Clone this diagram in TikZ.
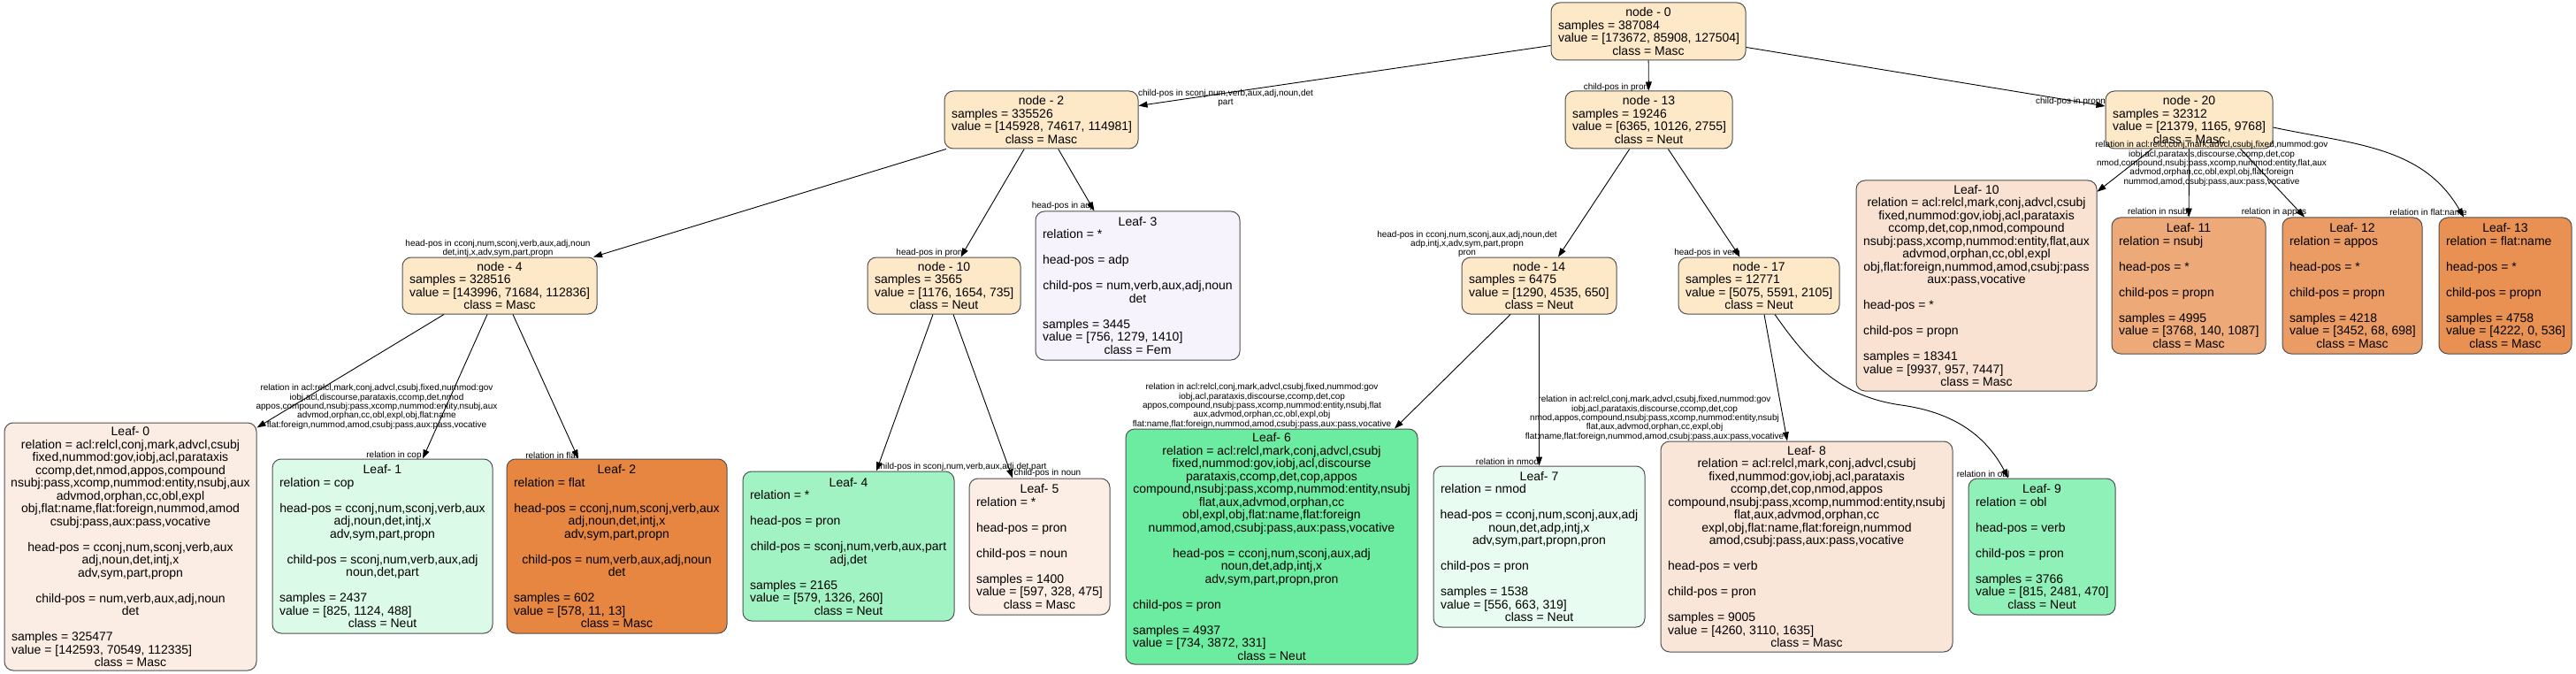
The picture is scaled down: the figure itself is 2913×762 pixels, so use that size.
\documentclass[tikz,border=0pt]{standalone}
\usepackage{fontspec}
\setmainfont{Liberation Sans}
\usetikzlibrary{arrows.meta}

\definecolor{inode}{HTML}{FDE8C8}
\definecolor{lfa}{HTML}{FBEDE3}
\definecolor{lfb}{HTML}{DBFAE8}
\definecolor{lfc}{HTML}{E68641}
\definecolor{lfd}{HTML}{F7F3FD}
\definecolor{lfe}{HTML}{A2F3C4}
\definecolor{lff}{HTML}{FCEEE5}
\definecolor{lfg}{HTML}{6BECA1}
\definecolor{lfh}{HTML}{E9FCF1}
\definecolor{lfi}{HTML}{FAE6D8}
\definecolor{lfj}{HTML}{8FF0B8}
\definecolor{lfk}{HTML}{F9E2D2}
\definecolor{lfl}{HTML}{EDA977}
\definecolor{lfm}{HTML}{EB9C64}
\definecolor{lfn}{HTML}{E89152}
\definecolor{bord}{HTML}{505050}

\newcommand\tcen[1]{\hbox to\hsize{\hss#1\hss}}
\newcommand\tlft[1]{\hbox to\hsize{#1\hss}}
\newcommand\tblank{\hbox{}}
\newcommand\tbox[2]{\vbox{\hsize=#1\relax\fontsize{14pt}{14.5pt}\selectfont\baselineskip=14.5pt\lineskiplimit=-40pt\lineskip=0pt #2}}

\tikzset{
  treebox/.style={draw=bord, line width=1pt, rounded corners=10pt, inner xsep=8pt, inner ysep=0pt},
  elab/.style={font=\fontsize{10pt}{10.3pt}\selectfont, align=center, inner sep=0pt},
  treeedge/.style={draw=black, line width=0.9pt, -{Triangle[length=10pt,width=7pt]}},
}

\newcommand\tnode[7]{\node[treebox, fill=#6, minimum width=#4pt, minimum height=#5pt] (#1) at (#2,#3) {\tbox{\dimexpr#4pt-16pt\relax}{#7}};}

\begin{document}
\begin{tikzpicture}[x=1pt,y=-1pt]
\useasboundingbox[fill=white] (0,0) rectangle (2913,762);

% ---- internal nodes
\tnode{n0}{1864}{35.5}{220}{65}{inode}{\tcen{node - 0}\tlft{samples = 387084}\tlft{value = [173672, 85908, 127504]}\tcen{class = Masc}}
\tnode{n2}{1177.5}{135.5}{219}{65}{inode}{\tcen{node - 2}\tlft{samples = 335526}\tlft{value = [145928, 74617, 114981]}\tcen{class = Masc}}
\tnode{n13}{1864.5}{135.5}{189}{65}{inode}{\tcen{node - 13}\tlft{samples = 19246}\tlft{value = [6365, 10126, 2755]}\tcen{class = Neut}}
\tnode{n20}{2475.5}{135.5}{189}{65}{inode}{\tcen{node - 20}\tlft{samples = 32312}\tlft{value = [21379, 1165, 9768]}\tcen{class = Masc}}
\tnode{n4}{565}{323}{220}{64}{inode}{\tcen{node - 4}\tlft{samples = 328516}\tlft{value = [143996, 71684, 112836]}\tcen{class = Masc}}
\tnode{n10}{1067.5}{323}{173}{64}{inode}{\tcen{node - 10}\tlft{samples = 3565}\tlft{value = [1176, 1654, 735]}\tcen{class = Neut}}
\tnode{n14}{1740.5}{323}{175}{64}{inode}{\tcen{node - 14}\tlft{samples = 6475}\tlft{value = [1290, 4535, 650]}\tcen{class = Neut}}
\tnode{n17}{1989}{323}{182}{64}{inode}{\tcen{node - 17}\tlft{samples = 12771}\tlft{value = [5075, 5591, 2105]}\tcen{class = Neut}}

% ---- leaves, middle row
\tnode{l3}{1286.5}{323}{231}{168}{lfd}{\tcen{Leaf- 3}\tlft{relation = *}\tblank\tlft{head-pos = adp}\tblank\tcen{child-pos = num,verb,aux,adj,noun}\tcen{det}\tblank\tlft{samples = 3445}\tlft{value = [756, 1279, 1410]}\tcen{class = Fem}}
\tnode{l10}{2235}{323}{272}{238}{lfk}{\tcen{Leaf- 10}\tcen{relation = acl:relcl,mark,conj,advcl,csubj}\tcen{fixed,nummod:gov,iobj,acl,parataxis}\tcen{ccomp,det,cop,nmod,compound}\tcen{nsubj:pass,xcomp,nummod:entity,flat,aux}\tcen{advmod,orphan,cc,obl,expl}\tcen{obj,flat:foreign,nummod,amod,csubj:pass}\tcen{aux:pass,vocative}\tblank\tlft{head-pos = *}\tblank\tlft{child-pos = propn}\tblank\tlft{samples = 18341}\tlft{value = [9937, 957, 7447]}\tcen{class = Masc}}
\tnode{l11}{2475}{323}{174}{154}{lfl}{\tcen{Leaf- 11}\tlft{relation = nsubj}\tblank\tlft{head-pos = *}\tblank\tlft{child-pos = propn}\tblank\tlft{samples = 4995}\tlft{value = [3768, 140, 1087]}\tcen{class = Masc}}
\tnode{l12}{2660}{323}{158}{154}{lfm}{\tcen{Leaf- 12}\tlft{relation = appos}\tblank\tlft{head-pos = *}\tblank\tlft{child-pos = propn}\tblank\tlft{samples = 4218}\tlft{value = [3452, 68, 698]}\tcen{class = Masc}}
\tnode{l13}{2833}{323}{150}{154}{lfn}{\tcen{Leaf- 13}\tlft{relation = flat:name}\tblank\tlft{head-pos = *}\tblank\tlft{child-pos = propn}\tblank\tlft{samples = 4758}\tlft{value = [4222, 0, 536]}\tcen{class = Masc}}

% ---- leaves, bottom row
\tnode{l0}{147.5}{618}{285}{280}{lfa}{\tcen{Leaf- 0}\tcen{relation = acl:relcl,conj,mark,advcl,csubj}\tcen{fixed,nummod:gov,iobj,acl,parataxis}\tcen{ccomp,det,nmod,appos,compound}\tcen{nsubj:pass,xcomp,nummod:entity,nsubj,aux}\tcen{advmod,orphan,cc,obl,expl}\tcen{obj,flat:name,flat:foreign,nummod,amod}\tcen{csubj:pass,aux:pass,vocative}\tblank\tcen{head-pos = cconj,num,sconj,verb,aux}\tcen{adj,noun,det,intj,x}\tcen{adv,sym,part,propn}\tblank\tcen{child-pos = num,verb,aux,adj,noun}\tcen{det}\tblank\tlft{samples = 325477}\tlft{value = [142593, 70549, 112335]}\tcen{class = Masc}}
\tnode{l1}{432.5}{617.5}{249}{197}{lfb}{\tcen{Leaf- 1}\tlft{relation = cop}\tblank\tcen{head-pos = cconj,num,sconj,verb,aux}\tcen{adj,noun,det,intj,x}\tcen{adv,sym,part,propn}\tblank\tcen{child-pos = sconj,num,verb,aux,adj}\tcen{noun,det,part}\tblank\tlft{samples = 2437}\tlft{value = [825, 1124, 488]}\tcen{class = Neut}}
\tnode{l2}{697.5}{617.5}{249}{197}{lfc}{\tcen{Leaf- 2}\tlft{relation = flat}\tblank\tcen{head-pos = cconj,num,sconj,verb,aux}\tcen{adj,noun,det,intj,x}\tcen{adv,sym,part,propn}\tblank\tcen{child-pos = num,verb,aux,adj,noun}\tcen{det}\tblank\tlft{samples = 602}\tlft{value = [578, 11, 13]}\tcen{class = Masc}}
\tnode{l4}{959.5}{617.5}{239}{169}{lfe}{\tcen{Leaf- 4}\tlft{relation = *}\tblank\tlft{head-pos = pron}\tblank\tcen{child-pos = sconj,num,verb,aux,part}\tcen{adj,det}\tblank\tlft{samples = 2165}\tlft{value = [579, 1326, 260]}\tcen{class = Neut}}
\tnode{l5}{1175.5}{618}{159}{154}{lff}{\tcen{Leaf- 5}\tlft{relation = *}\tblank\tlft{head-pos = pron}\tblank\tlft{child-pos = noun}\tblank\tlft{samples = 1400}\tlft{value = [597, 328, 475]}\tcen{class = Masc}}
\tnode{l6}{1438}{618}{330}{266}{lfg}{\tcen{Leaf- 6}\tcen{relation = acl:relcl,mark,conj,advcl,csubj}\tcen{fixed,nummod:gov,iobj,acl,discourse}\tcen{parataxis,ccomp,det,cop,appos}\tcen{compound,nsubj:pass,xcomp,nummod:entity,nsubj}\tcen{flat,aux,advmod,orphan,cc}\tcen{obl,expl,obj,flat:name,flat:foreign}\tcen{nummod,amod,csubj:pass,aux:pass,vocative}\tblank\tcen{head-pos = cconj,num,sconj,aux,adj}\tcen{noun,det,adp,intj,x}\tcen{adv,sym,part,propn,pron}\tblank\tlft{child-pos = pron}\tblank\tlft{samples = 4937}\tlft{value = [734, 3872, 331]}\tcen{class = Neut}}
\tnode{l7}{1740.5}{618}{239}{182}{lfh}{\tcen{Leaf- 7}\tlft{relation = nmod}\tblank\tcen{head-pos = cconj,num,sconj,aux,adj}\tcen{noun,det,adp,intj,x}\tcen{adv,sym,part,propn,pron}\tblank\tlft{child-pos = pron}\tblank\tlft{samples = 1538}\tlft{value = [556, 663, 319]}\tcen{class = Neut}}
\tnode{l8}{2043}{618}{330}{238}{lfi}{\tcen{Leaf- 8}\tcen{relation = acl:relcl,mark,conj,advcl,csubj}\tcen{fixed,nummod:gov,iobj,acl,parataxis}\tcen{ccomp,det,cop,nmod,appos}\tcen{compound,nsubj:pass,xcomp,nummod:entity,nsubj}\tcen{flat,aux,advmod,orphan,cc}\tcen{expl,obj,flat:name,flat:foreign,nummod}\tcen{amod,csubj:pass,aux:pass,vocative}\tblank\tlft{head-pos = verb}\tblank\tlft{child-pos = pron}\tblank\tlft{samples = 9005}\tlft{value = [4260, 3110, 1635]}\tcen{class = Masc}}
\tnode{l9}{2309}{618}{166}{154}{lfj}{\tcen{Leaf- 9}\tlft{relation = obl}\tblank\tlft{head-pos = verb}\tblank\tlft{child-pos = pron}\tblank\tlft{samples = 3766}\tlft{value = [815, 2481, 470]}\tcen{class = Neut}}

% ---- connectors
\coordinate (c9) at (2150,458);
\draw[treeedge] (n0) -- (n2);
\draw[treeedge] (n0) -- (n13);
\draw[treeedge] (n0) -- (n20);
\draw[treeedge] (n2) -- (n4);
\draw[treeedge] (n2) -- (n10);
\draw[treeedge] (n2) -- (l3);
\draw[treeedge] (n13) -- (n14);
\draw[treeedge] (n13) -- (n17);
\draw[treeedge] (n20) -- (l10);
\draw[treeedge] (n20) -- (l11);
\draw[treeedge] ([xshift=58pt]n20.south) -- ([xshift=-54pt]l12.north);
\draw[treeedge] ([yshift=-8.5pt]n20.east) to[out=-12,in=120] ([xshift=-47pt]l13.north);
\draw[treeedge] ([xshift=-63pt]n4.south) -- ([yshift=-6pt]l0.north east);
\draw[treeedge] ([xshift=-14pt]n4.south) -- ([xshift=45.5pt]l1.north);
\draw[treeedge] ([xshift=15pt]n4.south) -- ([xshift=-43.5pt]l2.north);
\draw[treeedge] ([xshift=-12.5pt]n10.south) -- ([xshift=31.5pt]l4.north);
\draw[treeedge] ([xshift=10.5pt]n10.south) -- ([xshift=-30.5pt]l5.north);
\draw[treeedge] ([xshift=-32.5pt]n14.south) -- ([xshift=139pt]l6.north);
\draw[treeedge] (n14) -- (l7);
\draw[treeedge] ([xshift=6pt]n17.south) -- ([xshift=-22pt]l8.north);
\draw[treeedge] ([xshift=18pt]n17.south) to[out=-55,in=172] (c9) to[out=-8,in=118] ([xshift=-38pt]l9.north);

% ---- connector labels
\node[elab] (t02) at (1386,111) {child-pos in sconj,num,verb,aux,adj,noun,det\\part};
\node[elab] (t013) at (1827.5,99) {child-pos in pron};
\node[elab] (t020) at (2341.5,115) {child-pos in propn};
\node[elab] (t24) at (563,281) {head-pos in cconj,num,sconj,verb,aux,adj,noun\\det,intj,x,adv,sym,part,propn};
\node[elab] (t210) at (1051,286) {head-pos in pron};
\node[elab] (t23) at (1201,233) {head-pos in adj};
\node[elab] (t1314) at (1659,276) {head-pos in cconj,num,sconj,aux,adj,noun,det\\adp,intj,x,adv,sym,part,propn\\pron};
\node[elab] (t1317) at (1930.5,286) {head-pos in verb};
\node[elab] (t2010) at (2501,185) {relation in acl:relcl,conj,mark,advcl,csubj,fixed,nummod:gov\\iobj,acl,parataxis,discourse,ccomp,det,cop\\nmod,compound,nsubj:pass,xcomp,nummod:entity,flat,aux\\advmod,orphan,cc,obl,expl,obj,flat:foreign\\nummod,amod,csubj:pass,aux:pass,vocative};
\node[elab] (t2011) at (2441,240) {relation in nsubj};
\node[elab] (t2012) at (2571.5,240) {relation in appos};
\node[elab] (t2013) at (2746,240) {relation in flat:name};
\node[elab] (t40) at (426,460) {relation in acl:relcl,mark,conj,advcl,csubj,fixed,nummod:gov\\iobj,acl,discourse,parataxis,ccomp,det,nmod\\appos,compound,nsubj:pass,xcomp,nummod:entity,nsubj,aux\\advmod,orphan,cc,obl,expl,obj,flat:name\\flat:foreign,nummod,amod,csubj:pass,aux:pass,vocative};
\node[elab] (t41) at (445.5,515) {relation in cop};
\node[elab] (t42) at (624,515) {relation in flat};
\node[elab] (t104) at (1087,528) {child-pos in sconj,num,verb,aux,adj,det,part};
\node[elab] (t105) at (1184.5,535) {child-pos in noun};
\node[elab] (t146) at (1427,459) {relation in acl:relcl,conj,mark,advcl,csubj,fixed,nummod:gov\\iobj,acl,parataxis,discourse,ccomp,det,cop\\appos,compound,nsubj:pass,xcomp,nummod:entity,nsubj,flat\\aux,advmod,orphan,cc,obl,expl,obj\\flat:name,flat:foreign,nummod,amod,csubj:pass,aux:pass,vocative};
\node[elab] (t147) at (1704.5,522) {relation in nmod};
\node[elab] (t178) at (1871,473) {relation in acl:relcl,conj,mark,advcl,csubj,fixed,nummod:gov\\iobj,acl,parataxis,discourse,ccomp,det,cop\\nmod,appos,compound,nsubj:pass,xcomp,nummod:entity,nsubj\\flat,aux,advmod,orphan,cc,expl,obj\\flat:name,flat:foreign,nummod,amod,csubj:pass,aux:pass,vocative};
\node[elab] (t179) at (2242.5,536) {relation in obl};
\end{tikzpicture}
\end{document}
